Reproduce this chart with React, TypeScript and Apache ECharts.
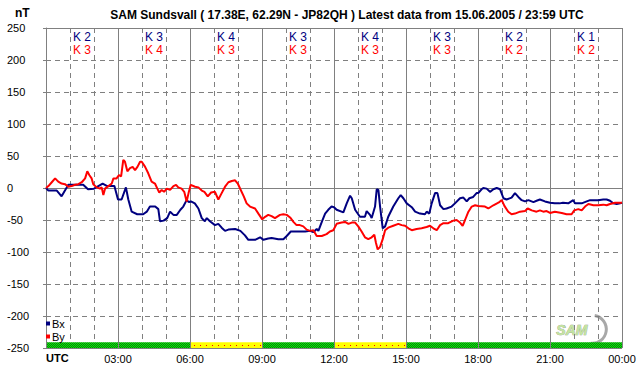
import React, { useEffect, useRef } from 'react';
import * as echarts from 'echarts';

const TITLE = 'SAM Sundsvall ( 17.38E, 62.29N - JP82QH ) Latest data from 15.06.2005 / 23:59 UTC';
const UNIT = 'nT';

const bxHours = [0,0.1,0.45,0.65,0.93,1.1,1.55,1.75,2.0,2.36,2.55,2.85,3.0,3.15,3.33,3.43,3.57,3.8,4.05,4.2,4.33,4.55,4.68,4.75,4.9,5.05,5.17,5.31,5.45,5.6,5.72,5.86,5.95,6.04,6.2,6.35,6.49,6.62,6.7,6.83,7.04,7.18,7.32,7.46,7.6,7.88,8.1,8.29,8.43,8.71,8.92,9.06,9.26,9.4,9.68,9.89,10.03,10.2,10.8,11.0,11.14,11.28,11.35,11.5,11.63,11.76,11.9,12.0,12.11,12.39,12.53,12.67,12.74,12.88,13.08,13.29,13.36,13.5,13.57,13.71,13.78,13.85,13.92,14.03,14.13,14.26,14.47,14.68,14.78,14.89,15.03,15.24,15.38,15.58,15.79,15.86,15.97,16.07,16.21,16.31,16.42,16.56,16.69,16.9,17.04,17.25,17.39,17.53,17.64,17.8,17.94,18.01,18.15,18.22,18.36,18.5,18.64,18.78,18.92,19.06,19.19,19.4,19.54,19.68,19.82,19.96,20.1,20.31,20.44,20.58,20.79,21.0,21.2,21.4,21.54,21.76,21.97,22.04,22.32,22.53,22.67,23.01,23.22,23.36,23.5,23.64,23.78,23.92,24];
const bxValues = [0,-4,-4,-13,5,5,5,-2,-1,7,3,3,-18,-18,1,-18,-37,-41,-41,-37,-29,-29,-33,-52,-51,-47,-37,-42,-42,-34,-29,-19,-22,-21,-24,-32,-47,-52,-47,-52,-58,-56,-62,-67,-65,-64,-67,-74,-81,-81,-77,-81,-79,-78,-80,-80,-75,-68,-68,-67,-69,-64,-67,-52,-40,-34,-29,-30,-34,-38,-24,-12,-16,-34,-45,-45,-36,-42,-47,-29,-2,-3,-29,-63,-60,-45,-29,-16,-11,-16,-24,-30,-37,-40,-41,-37,-40,-24,-8,-8,-27,-33,-32,-29,-24,-16,-15,-21,-16,-14,-8,-8,-2,0,-1,-6,-2,0,-2,-16,-18,-15,-8,-14,-19,-21,-19,-22,-20,-18,-21,-23,-24,-24,-23,-24,-19,-24,-24,-21,-19,-19,-18,-18,-20,-24,-25,-24,-23];

const byHours = [0,0.1,0.24,0.38,0.51,0.65,0.79,0.93,1.07,1.21,1.35,1.49,1.63,1.72,1.81,1.9,1.97,2.11,2.25,2.32,2.39,2.46,2.6,2.74,2.81,2.94,3.04,3.13,3.22,3.29,3.39,3.5,3.61,3.71,3.81,3.92,3.99,4.13,4.26,4.4,4.54,4.64,4.72,4.82,4.92,5.03,5.17,5.31,5.42,5.51,5.65,5.76,5.86,5.94,6.03,6.21,6.35,6.49,6.6,6.74,6.88,7.04,7.18,7.32,7.46,7.6,7.74,7.88,7.99,8.1,8.24,8.36,8.5,8.71,8.85,9.01,9.13,9.26,9.4,9.54,9.75,9.89,10.03,10.17,10.31,10.44,10.58,10.72,10.86,11.0,11.14,11.28,11.49,11.69,11.83,11.97,12.11,12.32,12.46,12.6,12.74,12.88,13.01,13.15,13.29,13.43,13.57,13.68,13.75,13.82,13.92,14.03,14.13,14.26,14.47,14.68,14.82,14.96,15.1,15.24,15.44,15.65,15.86,16.0,16.14,16.28,16.42,16.56,16.76,16.97,17.11,17.25,17.36,17.46,17.6,17.74,17.88,18.01,18.29,18.43,18.64,18.85,18.99,19.1,19.26,19.4,19.54,19.75,19.96,20.07,20.24,20.44,20.58,20.72,20.86,21.0,21.2,21.49,21.69,21.9,22.01,22.18,22.32,22.46,22.6,22.81,23.01,23.22,23.36,23.5,23.71,24];
const byValues = [0,3,9,15,10,7,6,2,3,5,6,9,15,26,20,15,6,1,-1,1,-11,-1,3,7,15,15,20,18,44,41,26,31,33,28,33,41,41,33,23,10,7,-1,-7,-3,-6,-1,-3,3,5,1,-1,-6,-21,-8,5,2,1,-4,-6,-13,-7,-6,-18,-8,2,9,11,12,7,-2,-13,-24,-29,-32,-40,-49,-45,-42,-44,-47,-42,-41,-42,-46,-53,-58,-58,-60,-65,-67,-66,-75,-75,-72,-68,-66,-56,-54,-53,-56,-54,-54,-60,-68,-77,-80,-77,-73,-86,-96,-92,-80,-66,-62,-59,-56,-58,-59,-63,-66,-64,-63,-61,-59,-63,-66,-58,-55,-55,-51,-50,-54,-59,-50,-37,-29,-27,-28,-29,-32,-27,-23,-19,-28,-37,-41,-40,-37,-36,-32,-35,-37,-35,-37,-36,-39,-37,-39,-41,-41,-35,-33,-35,-29,-25,-27,-27,-26,-27,-25,-23,-23];

// K indices per 3-hour block (00-03, 03-06, ... 21-24)
const kBx = [2, 3, 4, 3, 4, 3, 2, 1];
const kBy = [3, 4, 3, 3, 3, 3, 2, 2];

const xTickHours = [3, 6, 9, 12, 15, 18, 21, 24];

const FONT = 'Liberation Sans, Arial, sans-serif';
const BLUE = '#000080';
const RED = '#ff0000';
const GRID_COLOR = '#808080';

function makePattern(w: number, h: number, bg: string, dots: [number, number, string][]) {
  const c = document.createElement('canvas');
  c.width = w;
  c.height = h;
  const ctx = c.getContext('2d');
  if (ctx) {
    ctx.fillStyle = bg;
    ctx.fillRect(0, 0, w, h);
    dots.forEach(([x, y, col]) => {
      ctx.fillStyle = col;
      ctx.fillRect(x, y, 1, 1);
    });
  }
  return c.toDataURL();
}

export default function App() {
  const ref = useRef<HTMLDivElement>(null);
  useEffect(() => {
    document.body.style.margin = '0';
    const chart = echarts.init(ref.current!, null, { renderer: 'svg' });

    const greenImg = makePattern(2, 2, '#10e010', [[1, 0, '#008a00'], [0, 1, '#008a00']]);
    const yellowImg = makePattern(6, 4, '#ffff00', [[2, 1, '#ff0000']]);

    const bxData = bxHours.map((h, i) => [h, bxValues[i]]);
    const byData = byHours.map((h, i) => [h, byValues[i]]);
    const statusData = kBx.map((k, i) => [i * 3, i * 3 + 3, k >= 4 ? 1 : 0]);
    const kBxData = kBx.map((k, i) => [i * 3 + 1.5, k]);
    const kByData = kBy.map((k, i) => [i * 3 + 1.5, k]);

    const kRender = (color: string, dy: number) => (params: any, api: any) => {
      const p = api.coord([api.value(0), 250]);
      return {
        type: 'text',
        x: p[0],
        y: p[1] + dy,
        style: {
          text: 'K ' + api.value(1),
          fill: color,
          align: 'center',
          verticalAlign: 'middle',
          fontSize: 12,
          fontFamily: FONT,
        },
      };
    };

    const option: any = {
      animation: false,
      backgroundColor: '#ffffff',
      title: {
        text: TITLE,
        left: 342,
        top: 4,
        textAlign: 'center',
        textStyle: { fontSize: 12, fontWeight: 'bold', fontFamily: FONT, color: '#000' },
      },
      grid: { left: 46, right: 20, top: 28, bottom: 28 },
      legend: {
        data: ['Bx', 'By'],
        orient: 'vertical',
        left: 46,
        top: 318,
        icon: 'rect',
        itemWidth: 4,
        itemHeight: 4,
        itemGap: 2,
        padding: 0,
        textStyle: { fontSize: 11, fontFamily: FONT, color: '#000', padding: [0, 0, 0, -3] },
      },
      xAxis: [
        {
          type: 'value',
          min: 0,
          max: 24,
          interval: 3,
          axisLine: { show: true, lineStyle: { color: GRID_COLOR } },
          axisTick: { show: true, length: 4, lineStyle: { color: GRID_COLOR } },
          axisLabel: {
            fontSize: 11,
            fontFamily: FONT,
            color: '#000',
            margin: 5,
            customValues: xTickHours,
            formatter: (v: number) => {
              const h = v % 24;
              return (h < 10 ? '0' + h : '' + h) + ':00';
            },
          },
          splitLine: { show: true, lineStyle: { color: GRID_COLOR, width: 1, type: 'solid' } },
          z: 3,
        },
        {
          type: 'value',
          min: 0,
          max: 24,
          interval: 1,
          axisLine: { show: false },
          axisTick: { show: false },
          axisLabel: { show: false },
          splitLine: { show: true, lineStyle: { color: GRID_COLOR, width: 1, type: [5, 4] } },
          z: 1,
        },
      ],
      yAxis: [
        {
          type: 'value',
          min: -250,
          max: 250,
          interval: 50,
          axisLine: { show: true, lineStyle: { color: GRID_COLOR } },
          axisTick: { show: true, length: 3, lineStyle: { color: GRID_COLOR } },
          axisLabel: {
            fontSize: 11,
            fontFamily: FONT,
            color: '#000',
            align: 'left',
            margin: 39,
          },
          splitLine: { show: true, lineStyle: { color: GRID_COLOR, width: 1, type: [5, 4] } },
        },
        {
          type: 'value',
          min: -250,
          max: 250,
          interval: 250,
          position: 'left',
          axisLine: { show: false },
          axisTick: { show: false },
          axisLabel: { show: false },
          splitLine: { show: true, lineStyle: { color: GRID_COLOR, width: 1, type: 'solid' } },
        },
      ],
      series: [
        {
          name: 'status',
          type: 'custom',
          silent: true,
          data: statusData,
          renderItem: (params: any, api: any) => {
            const a = api.coord([api.value(0), -241]);
            const b = api.coord([api.value(1), -250]);
            return {
              type: 'rect',
              shape: { x: a[0], y: a[1], width: b[0] - a[0], height: b[1] - a[1] },
              style: {
                fill: { image: api.value(2) ? yellowImg : greenImg, repeat: 'repeat' },
              },
            };
          },
          z: 2,
        },
        {
          name: 'Bx',
          type: 'line',
          data: bxData,
          showSymbol: false,
          color: BLUE,
          lineStyle: { color: BLUE, width: 2 },
          z: 4,
        },
        {
          name: 'By',
          type: 'line',
          data: byData,
          showSymbol: false,
          color: RED,
          lineStyle: { color: RED, width: 2 },
          z: 5,
        },
        {
          name: 'kBx',
          type: 'custom',
          silent: true,
          data: kBxData,
          renderItem: kRender(BLUE, 9),
          z: 6,
        },
        {
          name: 'kBy',
          type: 'custom',
          silent: true,
          data: kByData,
          renderItem: kRender(RED, 22),
          z: 6,
        },
      ],
      graphic: [
        {
          type: 'text',
          left: 15,
          top: 7,
          style: { text: UNIT, fontSize: 12, fontWeight: 'bold', fontFamily: FONT, fill: '#000' },
        },
        {
          type: 'text',
          left: 46,
          top: 352,
          style: { text: 'UTC', fontSize: 11, fontWeight: 'bold', fontFamily: FONT, fill: '#000' },
        },
        {
          type: 'group',
          left: 556,
          top: 313,
          children: [
            {
              type: 'arc',
              shape: { cx: 36, cy: 14, r: 14, startAngle: -1.4, endAngle: 1.7, clockwise: true },
              style: { stroke: '#a8a8a8', lineWidth: 3, fill: null },
            },
            {
              type: 'text',
              x: 0,
              y: 8,
              style: {
                text: 'SAM',
                fontSize: 14,
                fontStyle: 'italic',
                fontWeight: 'bold',
                fontFamily: FONT,
                fill: '#c4e4a0',
                stroke: '#8a9a80',
                lineWidth: 0.6,
              },
            },
          ],
        },
      ],
    };

    chart.setOption(option);
    return () => chart.dispose();
  }, []);
  return <div ref={ref} style={{ width: 642, height: 376 }} />;
}
